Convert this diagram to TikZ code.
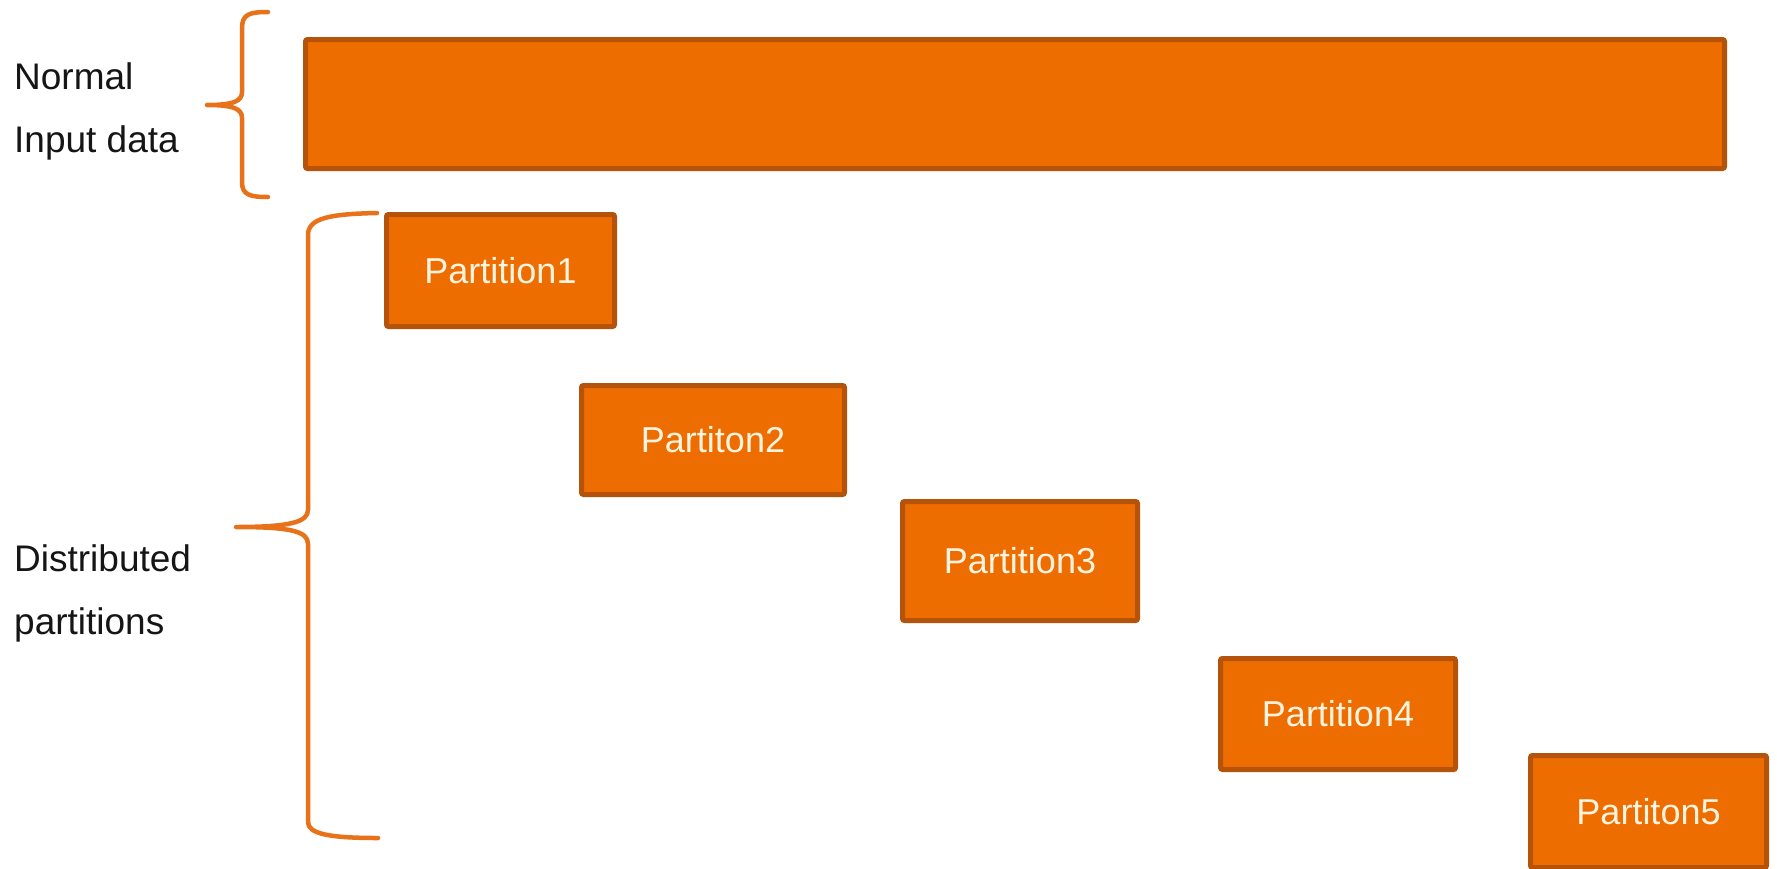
\documentclass[tikz,border=0pt]{standalone}
\usepackage{fontspec}
\setmainfont{Liberation Sans}
\definecolor{barfill}{HTML}{EE6D00}
\definecolor{barline}{HTML}{B5530A}
\definecolor{bracecol}{HTML}{E8721A}
\definecolor{boxtext}{HTML}{FFF4E0}
\definecolor{labeltext}{HTML}{151515}
\tikzset{
  block/.style={draw=barline, fill=barfill, line width=5pt, rounded corners=2pt,
    inner sep=0pt, text=boxtext, font=\fontsize{36}{40}\selectfont},
  sidelabel/.style={align=left, anchor=west, inner sep=0pt, text=labeltext,
    font=\fontsize{37}{63}\selectfont},
  bracket/.style={draw=bracecol, line width=4.5pt, line cap=round, line join=round}
}
\begin{document}
\begin{tikzpicture}[x=1pt, y=-1pt]
  \useasboundingbox (0,0) rectangle (1777,868);
  \fill[white] (0,0) rectangle (1777,868);

  % input data bar and the partitions
  \node[block, minimum width=1419pt, minimum height=129pt] (input) at (1015,104) {};
  \node[block, minimum width=228pt, minimum height=112pt] (p1) at (500.5,270.5) {Partition1};
  \node[block, minimum width=263pt, minimum height=109pt] (p2) at (713,440) {Partiton2};
  \node[block, minimum width=235pt, minimum height=119pt] (p3) at (1020,561) {Partition3};
  \node[block, minimum width=235pt, minimum height=111pt] (p4) at (1338,714) {Partition4};
  \node[block, minimum width=236pt, minimum height=112pt] (p5) at (1648.5,811.5) {Partiton5};

  % side labels
  \node[sidelabel] (lnormal) at (14,111) {Normal\\Input data};
  \node[sidelabel] (ldist) at (14,593) {Distributed\\partitions};

  % brace for the input data
  \coordinate (b1top) at (268,12);
  \coordinate (b1mid) at (207,105);
  \coordinate (b1bot) at (268,197);
  \draw[bracket] (b1top) .. controls (250,12) and (242,14) .. (242,28)
    -- (242,92) .. controls (242,101) and (234,105) .. (b1mid)
    .. controls (234,105) and (242,109) .. (242,118)
    -- (242,182) .. controls (242,195) and (250,197) .. (b1bot);

  % brace for the partitions
  \coordinate (b2top) at (377,213);
  \coordinate (b2mid) at (236,527);
  \coordinate (b2bot) at (378,838);
  \draw[bracket] (b2top) .. controls (330,214) and (308,218) .. (308,235)
    -- (308,510) .. controls (308,522) and (290,527) .. (b2mid)
    .. controls (290,527) and (308,531) .. (308,544)
    -- (308,822) .. controls (308,834) and (330,838) .. (b2bot);
\end{tikzpicture}
\end{document}
